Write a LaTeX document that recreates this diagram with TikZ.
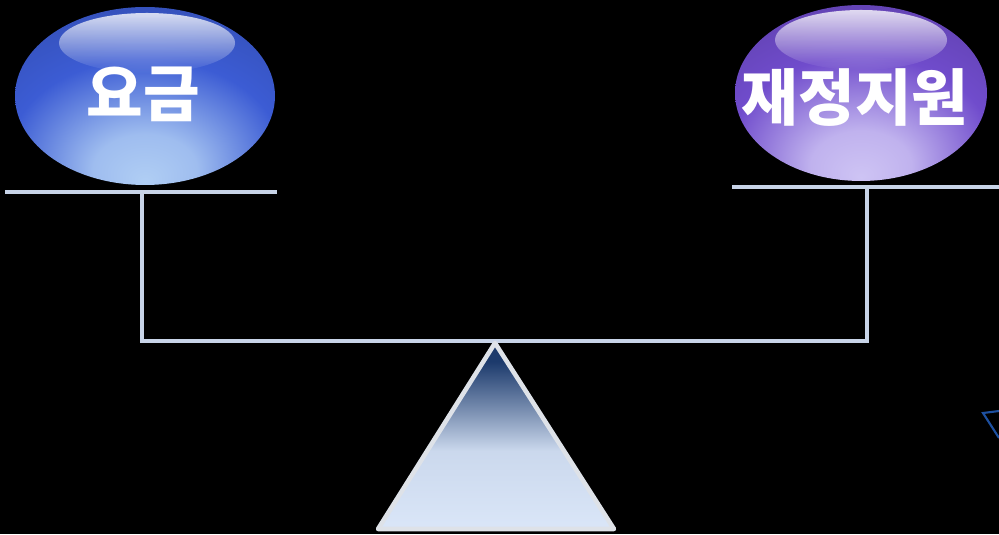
\documentclass[tikz,border=0pt]{standalone}
\usepackage{fontspec}
\newfontfamily\kr{Noto Sans CJK KR}
\usetikzlibrary{shapes.geometric,fadings}
\definecolor{beam}{RGB}{200,212,232}
\definecolor{bevel}{RGB}{222,226,232}
\definecolor{stray}{RGB}{30,80,160}
\definecolor{feelight}{RGB}{176,206,244}
\definecolor{feemid}{RGB}{60,92,212}
\definecolor{feedark}{RGB}{20,34,120}
\definecolor{aidlight}{RGB}{206,196,244}
\definecolor{aidmid}{RGB}{112,76,204}
\definecolor{aiddark}{RGB}{56,24,112}
\definecolor{tridark}{RGB}{28,58,108}
\definecolor{trilight}{RGB}{218,230,248}
\pgfdeclareradialshading{feeball}{\pgfpoint{0bp}{-24bp}}{color(0bp)=(feelight);
  color(10bp)=(feelight!85!feemid); color(26bp)=(feemid); color(46bp)=(feemid!80!black);
  color(74bp)=(feedark)}
\pgfdeclareradialshading{aidball}{\pgfpoint{0bp}{-24bp}}{color(0bp)=(aidlight);
  color(10bp)=(aidlight!85!aidmid); color(26bp)=(aidmid); color(46bp)=(aidmid!80!black);
  color(74bp)=(aiddark)}
\pgfdeclareverticalshading{fulcrum}{100bp}{color(0bp)=(trilight); color(25bp)=(trilight);
  color(46bp)=(trilight!92!tridark); color(58bp)=(trilight!45!tridark);
  color(70bp)=(tridark); color(100bp)=(tridark)}
\tikzset{
  ball/.style={ellipse,shade,inner sep=0pt},
  word/.style={text=white,font=\kr\bfseries\fontsize{35}{35}\selectfont},
  gloss/.style={white,opacity=0.8,path fading=south},
  plank/.style={draw=beam,line width=2.6pt},
  rod/.style={draw=beam,line width=2pt},
  pivot/.style={shading=fulcrum,draw=bevel,line width=2.6pt,line join=round},
}

\begin{document}
\begin{tikzpicture}[x=0.02cm,y=0.02cm]
  \fill[black] (0,0) rectangle (999,534);
  \useasboundingbox (0,0) rectangle (999,534);
  % balls on the scale
  \node[ball,shading=feeball,minimum width=5.2cm,minimum height=3.56cm] (fee) at (145,438) {};
  \fill[gloss] (147,491) ellipse (88 and 30);
  \node[word] (feetxt) at (143,440) {요금};
  \node[ball,shading=aidball,minimum width=5.04cm,minimum height=3.52cm] (aid) at (861,441) {};
  \fill[gloss] (861,494) ellipse (86 and 30);
  \node[word] (aidtxt) at (855,436) {재정지원};
  % plates and beam
  \coordinate (lpl) at (5,342);   \coordinate (lpr) at (277,342);
  \coordinate (rpl) at (732,347); \coordinate (rpr) at (999,347);
  \coordinate (lhang) at (142,342); \coordinate (rhang) at (867,347);
  \coordinate (lj) at (142,193);  \coordinate (rj) at (867,193);
  \draw[plank] (lpl) -- (lpr);
  \draw[plank] (rpl) -- (rpr);
  \draw[rod] (lhang) -- (lj) -- (rj) -- (rhang);
  % fulcrum
  \coordinate (tip) at (495,191);
  \coordinate (bl) at (378,5);
  \coordinate (br) at (614,5);
  \path[pivot] (tip) -- (br) -- (bl) -- cycle;
  % cut-off mark at the right edge
  \coordinate (st) at (983,121);
  \draw[stray,line width=1.2pt] (999,123) -- (st) -- (999,96);
\end{tikzpicture}
\end{document}
